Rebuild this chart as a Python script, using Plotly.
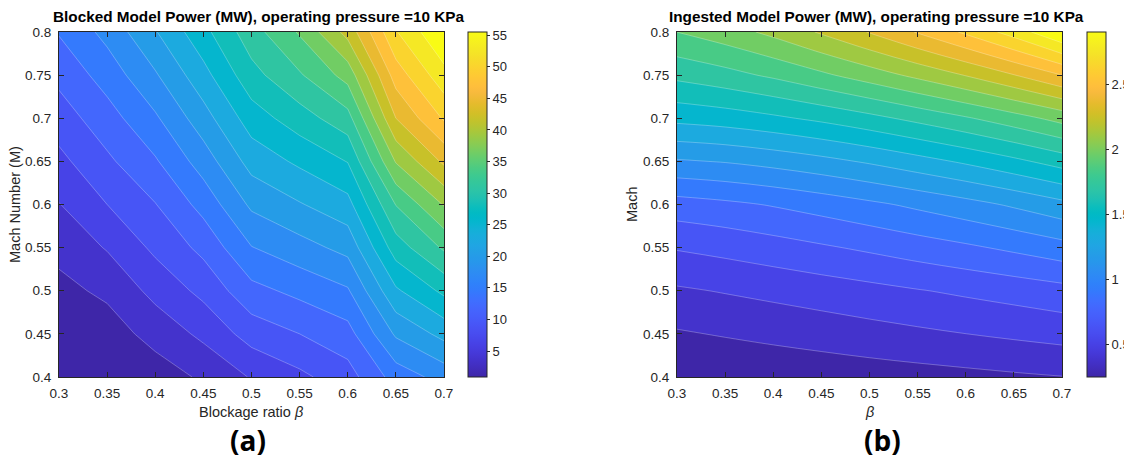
import plotly.graph_objects as go

# ---------------- data ----------------
beta = [0.3, 0.35, 0.4, 0.45, 0.5, 0.55, 0.6, 0.65, 0.7]
mach = [0.4, 0.45, 0.5, 0.55, 0.6, 0.65, 0.7, 0.75, 0.8]
beta_ticktext = ["0.3", "0.35", "0.4", "0.45", "0.5", "0.55", "0.6", "0.65", "0.7"]
mach_ticktext = ["0.4", "0.45", "0.5", "0.55", "0.6", "0.65", "0.7", "0.75", "0.8"]

# rows: Mach 0.4 ... 0.8 ; columns: beta 0.3 ... 0.7
power_blocked = [
    [0.9, 1.4, 2.2, 3.9, 6.3, 8.1, 10.2, 15.0, 17.5],
    [1.7, 2.3, 4.4, 6.7, 9.8, 11.3, 12.9, 19.5, 22.5],
    [2.8, 4.0, 6.9, 9.4, 13.1, 14.6, 16.2, 23.9, 27.5],
    [4.2, 6.3, 9.25, 12.0, 16.4, 18.1, 19.9, 28.2, 32.5],
    [6.0, 8.7, 11.2, 14.8, 19.6, 21.5, 23.4, 32.2, 37.5],
    [8.0, 10.8, 13.6, 17.7, 22.7, 24.8, 27.0, 37.5, 43.0],
    [10.0, 12.8, 16.1, 20.6, 25.6, 28.3, 31.1, 42.5, 48.0],
    [12.0, 15.0, 18.8, 23.4, 28.6, 31.8, 35.7, 46.3, 52.0],
    [14.1, 17.3, 21.5, 26.1, 31.0, 35.0, 40.8, 50.1, 55.5],
]

power_ingested = [
    [0.247, 0.262, 0.278, 0.293, 0.309, 0.324, 0.339, 0.355, 0.370],
    [0.360, 0.383, 0.406, 0.429, 0.453, 0.476, 0.499, 0.522, 0.545],
    [0.483, 0.508, 0.534, 0.561, 0.589, 0.619, 0.648, 0.677, 0.709],
    [0.636, 0.665, 0.699, 0.736, 0.774, 0.816, 0.857, 0.904, 0.957],
    [0.824, 0.852, 0.888, 0.931, 0.979, 1.031, 1.087, 1.150, 1.222],
    [1.117, 1.139, 1.175, 1.220, 1.274, 1.337, 1.404, 1.480, 1.565],
    [1.420, 1.446, 1.487, 1.538, 1.600, 1.672, 1.749, 1.836, 1.934],
    [1.669, 1.720, 1.785, 1.865, 1.952, 2.047, 2.148, 2.264, 2.395],
    [1.890, 1.959, 2.048, 2.157, 2.276, 2.405, 2.543, 2.702, 2.900],
]

cbar_ticks_blocked = [5, 10, 15, 20, 25, 30, 35, 40, 45, 50, 55]
cbar_ticks_ingested = [0.5, 1, 1.5, 2, 2.5]
n_levels = 20

# ---------------- parula colormap ----------------
PARULA = [
    (0.2422, 0.1504, 0.6603), (0.2504, 0.1650, 0.7076), (0.2578, 0.1818, 0.7511), (0.2647, 0.1978, 0.7952),
    (0.2706, 0.2147, 0.8364), (0.2751, 0.2342, 0.8710), (0.2783, 0.2559, 0.8991), (0.2803, 0.2782, 0.9221),
    (0.2813, 0.3006, 0.9414), (0.2810, 0.3228, 0.9579), (0.2795, 0.3447, 0.9717), (0.2760, 0.3667, 0.9829),
    (0.2699, 0.3892, 0.9906), (0.2602, 0.4123, 0.9952), (0.2440, 0.4358, 0.9988), (0.2206, 0.4603, 0.9973),
    (0.1963, 0.4847, 0.9892), (0.1834, 0.5074, 0.9798), (0.1786, 0.5289, 0.9682), (0.1764, 0.5499, 0.9520),
    (0.1687, 0.5703, 0.9359), (0.1540, 0.5902, 0.9218), (0.1460, 0.6091, 0.9079), (0.1380, 0.6276, 0.8973),
    (0.1248, 0.6459, 0.8883), (0.1113, 0.6635, 0.8763), (0.0952, 0.6798, 0.8598), (0.0689, 0.6948, 0.8394),
    (0.0297, 0.7082, 0.8163), (0.0036, 0.7203, 0.7917), (0.0067, 0.7312, 0.7660), (0.0433, 0.7411, 0.7394),
    (0.0964, 0.7500, 0.7120), (0.1408, 0.7584, 0.6842), (0.1717, 0.7670, 0.6554), (0.1938, 0.7758, 0.6251),
    (0.2161, 0.7843, 0.5923), (0.2470, 0.7918, 0.5567), (0.2906, 0.7973, 0.5188), (0.3406, 0.8008, 0.4789),
    (0.3909, 0.8029, 0.4354), (0.4456, 0.8024, 0.3909), (0.5044, 0.7993, 0.3480), (0.5616, 0.7942, 0.3045),
    (0.6174, 0.7876, 0.2612), (0.6720, 0.7793, 0.2227), (0.7242, 0.7698, 0.1910), (0.7738, 0.7598, 0.1646),
    (0.8203, 0.7498, 0.1535), (0.8634, 0.7406, 0.1596), (0.9035, 0.7330, 0.1774), (0.9393, 0.7288, 0.2100),
    (0.9728, 0.7298, 0.2394), (0.9956, 0.7434, 0.2371), (0.9970, 0.7659, 0.2199), (0.9952, 0.7893, 0.2028),
    (0.9892, 0.8136, 0.1885), (0.9786, 0.8386, 0.1766), (0.9676, 0.8639, 0.1643), (0.9610, 0.8890, 0.1537),
    (0.9597, 0.9135, 0.1423), (0.9628, 0.9373, 0.1265), (0.9691, 0.9606, 0.1064), (0.9769, 0.9839, 0.0805),
]


def parula(f):
    f = min(max(f, 0.0), 1.0) * (len(PARULA) - 1)
    i = int(f)
    if i >= len(PARULA) - 1:
        c = PARULA[-1]
    else:
        t = f - i
        a, b = PARULA[i], PARULA[i + 1]
        c = tuple(a[k] + (b[k] - a[k]) * t for k in range(3))
    return "rgb(%d,%d,%d)" % tuple(round(v * 255) for v in c)


continuous_scale = [[i / (len(PARULA) - 1), parula(i / (len(PARULA) - 1))] for i in range(len(PARULA))]


def band_scale(n):
    # one flat colour per filled band (n levels -> n+1 bands)
    scale = []
    for i in range(n + 1):
        col = parula(i / n)
        lo = max(0.0, (i - 0.5) / n)
        hi = min(1.0, (i + 0.5) / n)
        scale.append([lo, col])
        scale.append([hi, col])
    return scale


# the page body has an 8px default margin: lay the figure out in window pixels
OFF = 8
W, H = 1132 - OFF, 460 - OFF
FONT = "Liberation Sans"
TXT = "#262626"


def px(x):
    return (x - OFF) / W


def py(y):
    return 1 - (y - OFF) / H


PLOT_TOP, PLOT_BOT = 32, 377
panels = [
    dict(z=power_blocked, x0=59, x1=444, cbx=468, ticks=cbar_ticks_blocked, smooth=0, xa="x", ya="y"),
    dict(z=power_ingested, x0=677, x1=1062, cbx=1087, ticks=cbar_ticks_ingested, smooth=1.0, xa="x2", ya="y2"),
]

fig = go.Figure()
for p in panels:
    zmin = min(min(r) for r in p["z"])
    zmax = max(max(r) for r in p["z"])
    step = (zmax - zmin) / (n_levels + 1)
    start = zmin + step
    # heatmap only provides the continuous colour bar (hidden below the contour fill)
    fig.add_trace(go.Heatmap(
        x=beta, y=mach, z=p["z"], zmin=zmin, zmax=zmax, colorscale=continuous_scale,
        xaxis=p["xa"], yaxis=p["ya"], hoverinfo="skip",
        colorbar=dict(
            x=px(p["cbx"]), xanchor="left", xpad=0, y=py(PLOT_TOP), yanchor="top", ypad=0,
            len=(PLOT_BOT - PLOT_TOP) / H, lenmode="fraction", thickness=19, thicknessmode="pixels",
            outlinecolor=TXT, outlinewidth=1, ticks="outside", ticklen=3, tickcolor=TXT,
            tickvals=p["ticks"], tickfont=dict(family=FONT, size=13, color=TXT),
        ),
    ))
    fig.add_trace(go.Contour(
        x=beta, y=mach, z=p["z"], autocontour=False,
        contours=dict(coloring="fill", start=start, end=start + (n_levels - 0.5) * step, size=step,
                      showlines=True),
        line=dict(color="rgba(255,255,255,0.45)", width=0.6, smoothing=p["smooth"]),
        colorscale=band_scale(n_levels), showscale=False,
        xaxis=p["xa"], yaxis=p["ya"], hoverinfo="skip",
    ))

axis_common = dict(
    showline=True, linecolor=TXT, linewidth=1, mirror="ticks", ticks="inside", ticklen=5,
    tickcolor=TXT, showgrid=False, zeroline=False, tickfont=dict(family=FONT, size=13.5, color=TXT),
)

layout = dict(
    width=W, height=H, margin=dict(l=0, r=0, t=0, b=0, autoexpand=False),
    paper_bgcolor="white", plot_bgcolor="white", showlegend=False,
)
for i, p in enumerate(panels):
    sx = "" if i == 0 else "2"
    layout["xaxis" + sx] = dict(axis_common, domain=[px(p["x0"]), px(p["x1"])], range=[0.3, 0.7],
                                tickvals=beta, ticktext=beta_ticktext, anchor="y" + sx,
                                ticklabelstandoff=4, automargin=False)
    layout["yaxis" + sx] = dict(axis_common, domain=[py(PLOT_BOT), py(PLOT_TOP)], range=[0.4, 0.8],
                                tickvals=mach, ticktext=mach_ticktext, anchor="x" + sx,
                                ticklabelstandoff=4, automargin=False)
fig.update_layout(**layout)


def ann(text, x, y, size, color="black", angle=0, family=FONT):
    fig.add_annotation(text=text, x=px(x), y=py(y), xref="paper", yref="paper", showarrow=False,
                       xanchor="center", yanchor="middle", textangle=angle,
                       font=dict(family=family, size=size, color=color))


ann("<b>Blocked Model Power (MW), operating pressure =10 KPa</b>", 258, 16, 15.3)
ann("<b>Ingested Model Power (MW), operating pressure =10 KPa</b>", 876, 16, 15.3)
ann("Blockage ratio <i>β</i>", 251, 412, 14.5, TXT)
ann("<i>β</i>", 869, 412, 14.5, TXT)
ann("Mach Number (M)", 15, 205, 14.5, TXT, -90)
ann("Mach", 632, 205, 14.5, TXT, -90)
ann("<b>(a)</b>", 248, 440, 28, "black", 0, "Open Sans")
ann("<b>(b)</b>", 882, 440, 28, "black", 0, "Open Sans")

fig.write_html("out.html")
